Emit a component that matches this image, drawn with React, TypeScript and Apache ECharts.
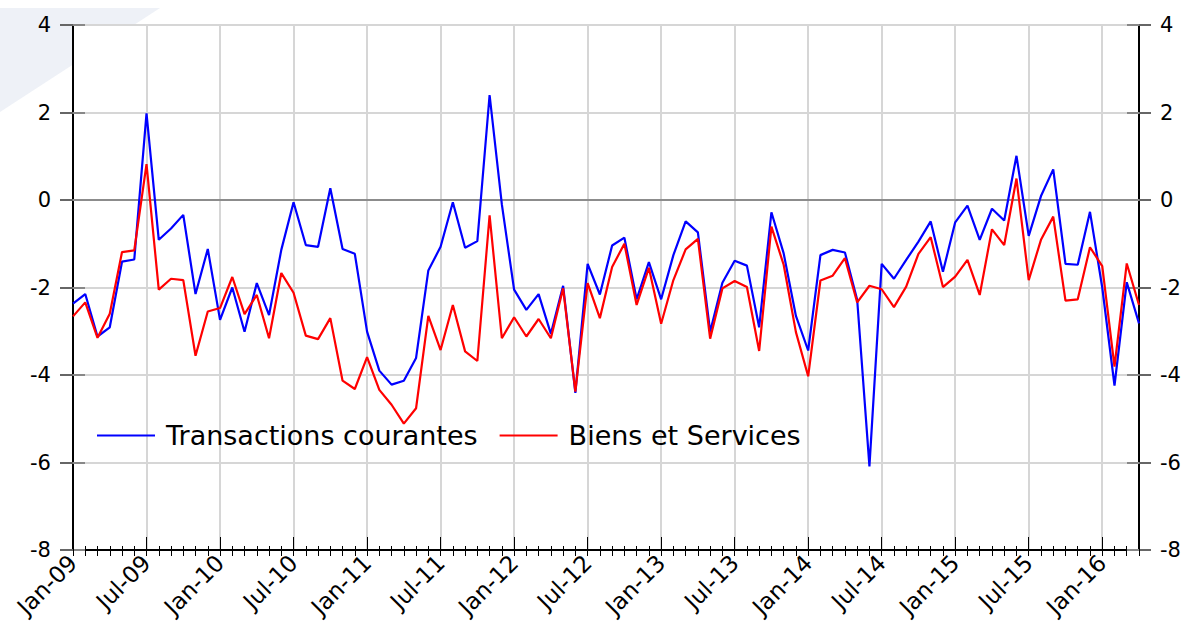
import React, { useEffect, useRef } from "react";
import * as echarts from "echarts";

const MONTHS = ["Jan", "Feb", "Mar", "Apr", "May", "Jun", "Jul", "Aug", "Sep", "Oct", "Nov", "Dec"];
const START_YEAR = 9; // 2009
const N_MONTHS = 88; // Jan-09 .. Apr-16
const categories: string[] = [];
for (let i = 0; i < N_MONTHS; i++) {
  const yy = START_YEAR + Math.floor(i / 12);
  categories.push(`${MONTHS[i % 12]}-${String(yy).padStart(2, "0")}`);
}

const Y_TICKS = [-8, -6, -4, -2, 0, 2, 4];

const transactionsCourantes = [
  -2.37, -2.15, -3.12, -2.91, -1.41, -1.36, 1.98, -0.91, -0.65, -0.34, -2.15, -1.12,
  -2.74, -2.0, -3.01, -1.9, -2.63, -1.14, -0.05, -1.03, -1.07, 0.27, -1.12, -1.23,
  -3.01, -3.9, -4.22, -4.13, -3.61, -1.61, -1.07, -0.05, -1.09, -0.94, 2.4, -0.1,
  -2.05, -2.51, -2.15, -3.06, -1.96, -4.41, -1.46, -2.16, -1.04, -0.86, -2.27, -1.42,
  -2.27, -1.26, -0.49, -0.74, -3.01, -1.89, -1.39, -1.5, -2.91, -0.28, -1.22, -2.65,
  -3.44, -1.26, -1.14, -1.2, -2.28, -6.09, -1.46, -1.8, -1.37, -0.95, -0.49, -1.64,
  -0.51, -0.13, -0.91, -0.2, -0.47, 1.01, -0.82, 0.09, 0.7, -1.46, -1.48, -0.27,
  -2.0, -4.24, -1.88, -2.82,
];

const biensEtServices = [
  -2.66, -2.34, -3.15, -2.6, -1.19, -1.15, 0.82, -2.05, -1.8, -1.83, -3.56, -2.55,
  -2.47, -1.76, -2.61, -2.17, -3.16, -1.67, -2.12, -3.1, -3.18, -2.7, -4.13, -4.32,
  -3.59, -4.34, -4.68, -5.11, -4.76, -2.65, -3.43, -2.4, -3.46, -3.68, -0.35, -3.16,
  -2.68, -3.12, -2.72, -3.16, -2.02, -4.38, -1.9, -2.7, -1.53, -1.0, -2.4, -1.55,
  -2.83, -1.83, -1.13, -0.89, -3.17, -2.02, -1.85, -1.99, -3.45, -0.61, -1.48, -3.02,
  -4.03, -1.84, -1.73, -1.33, -2.34, -1.96, -2.04, -2.45, -1.98, -1.23, -0.85, -1.99,
  -1.75, -1.37, -2.17, -0.67, -1.03, 0.49, -1.83, -0.91, -0.38, -2.3, -2.27, -1.08,
  -1.51, -3.81, -1.45, -2.4,
];

const SERIES_NAMES = ["Transactions courantes", "Biens et Services"];

const FONT = "DejaVu Sans";

export default function App() {
  const ref = useRef<HTMLDivElement>(null);

  useEffect(() => {
    if (!ref.current) return;
    const chart = echarts.init(ref.current, undefined, { renderer: "svg" });
    const yMin = Y_TICKS[0];
    const yMax = Y_TICKS[Y_TICKS.length - 1];
    const yInt = Y_TICKS[1] - Y_TICKS[0];

    const baseY = {
      type: "value",
      min: yMin,
      max: yMax,
      interval: yInt,
    };
    const baseX = {
      type: "category",
      data: categories,
      boundaryGap: false,
      position: "bottom",
    };

    chart.setOption({
      animation: false,
      backgroundColor: "#ffffff",
      textStyle: { fontFamily: FONT },
      graphic: [
        {
          type: "polygon",
          z: -100,
          shape: { points: [[0, 8], [160, 8], [0, 112]] },
          style: { fill: "#eef1f7" },
          silent: true,
        },
      ],
      grid: {
        left: 73,
        right: 50,
        top: 25,
        bottom: 77,
        show: true,
        backgroundColor: "#ffffff",
        borderColor: "#000000",
        borderWidth: 2,
      },
      legend: {
        left: 97,
        top: 422,
        padding: 0,
        icon: "rect",
        itemWidth: 58,
        itemHeight: 2,
        itemGap: 22,
        data: SERIES_NAMES,
        textStyle: { fontFamily: FONT, fontSize: 27, color: "#000", padding: [0, 0, 0, 6] },
      },
      xAxis: [
        {
          ...baseX,
          axisLine: { show: true, onZero: false, lineStyle: { color: "#000", width: 2 } },
          axisTick: { show: true, interval: 0, inside: false, length: 6, lineStyle: { color: "#000", width: 1 } },
          axisLabel: {
            interval: 5,
            rotate: 45,
            fontSize: 23,
            fontFamily: FONT,
            color: "#000",
            margin: 9,
          },
          splitLine: { show: true, interval: 5, lineStyle: { color: "#d6d6d6", width: 2 } },
        },
        {
          ...baseX,
          axisLine: { show: false, onZero: false },
          axisTick: { show: true, interval: 0, inside: true, length: 4, lineStyle: { color: "#000", width: 1 } },
          axisLabel: { show: false },
          splitLine: { show: false },
        },
        {
          ...baseX,
          axisLine: { show: false, onZero: false },
          axisTick: { show: true, interval: 5, inside: true, length: 13, lineStyle: { color: "#000", width: 1 } },
          axisLabel: { show: false },
          splitLine: { show: false },
        },
      ],
      yAxis: [
        {
          ...baseY,
          position: "left",
          axisLine: { show: true, onZero: false, lineStyle: { color: "#000", width: 2 } },
          axisTick: { show: true, inside: false, length: 13, lineStyle: { color: "#666", width: 2 } },
          axisLabel: { fontSize: 21, fontFamily: FONT, color: "#000", margin: 22 },
          splitLine: { show: true, lineStyle: { color: "#d6d6d6", width: 2 } },
        },
        {
          ...baseY,
          position: "right",
          axisLine: { show: true, onZero: false, lineStyle: { color: "#000", width: 2 } },
          axisTick: { show: true, inside: false, length: 12, lineStyle: { color: "#666", width: 2 } },
          axisLabel: { fontSize: 21, fontFamily: FONT, color: "#000", margin: 21 },
          splitLine: { show: false },
        },
        {
          ...baseY,
          position: "left",
          axisLine: { show: false, onZero: false },
          axisTick: { show: true, inside: true, length: 12, lineStyle: { color: "#888", width: 2 } },
          axisLabel: { show: false },
          splitLine: { show: false },
        },
        {
          ...baseY,
          position: "right",
          axisLine: { show: false, onZero: false },
          axisTick: { show: true, inside: true, length: 12, lineStyle: { color: "#888", width: 2 } },
          axisLabel: { show: false },
          splitLine: { show: false },
        },
      ],
      series: [
        {
          name: SERIES_NAMES[0],
          type: "line",
          xAxisIndex: 0,
          yAxisIndex: 0,
          data: transactionsCourantes,
          showSymbol: false,
          symbol: "none",
          color: "#0000ff",
          lineStyle: { color: "#0000ff", width: 2.2 },
          markLine: {
            silent: true,
            symbol: ["none", "none"],
            label: { show: false },
            lineStyle: { color: "#8c8c8c", type: "solid", width: 2 },
            data: [{ yAxis: 0 }],
            z: 1,
          },
        },
        {
          name: SERIES_NAMES[1],
          type: "line",
          xAxisIndex: 0,
          yAxisIndex: 0,
          data: biensEtServices,
          showSymbol: false,
          symbol: "none",
          color: "#ff0000",
          lineStyle: { color: "#ff0000", width: 2.2 },
        },
      ],
    });

    return () => chart.dispose();
  }, []);

  return (
    <div
      ref={ref}
      style={{ position: "fixed", left: 0, top: 0, width: 1189, height: 627 }}
    />
  );
}
